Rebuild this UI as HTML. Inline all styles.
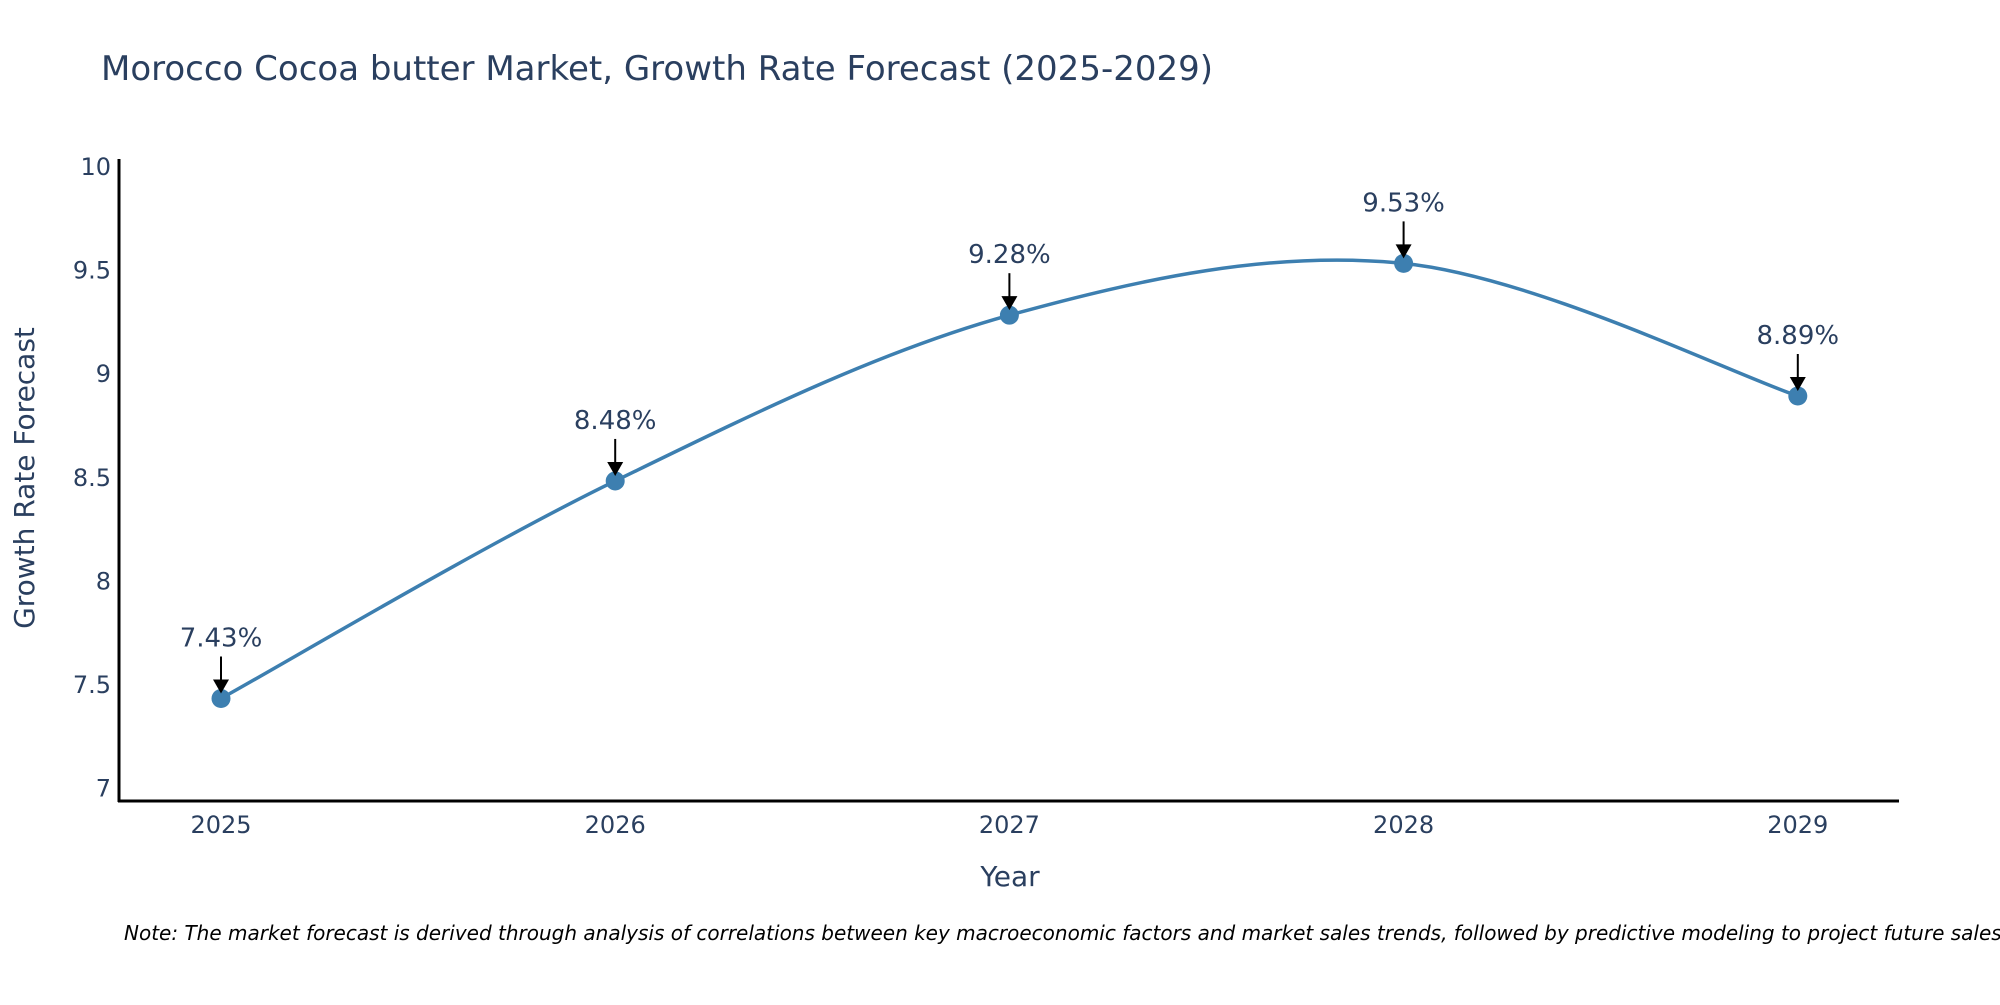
<!DOCTYPE html>
<html><head><meta charset="utf-8"><style>
html,body{margin:0;padding:0;background:#fff}
svg text{font-family:"DejaVu Sans","Liberation Sans",sans-serif;fill:#2a3f5f}
</style></head><body>
<svg id="chart" width="2000" height="1000" viewBox="0 0 2000 1000" xmlns="http://www.w3.org/2000/svg">
<rect width="2000" height="1000" fill="#fff"/>
<text x="101" y="80" font-size="34">Morocco Cocoa butter Market, Growth Rate Forecast (2025-2029)</text>
<g id="yticks"></g>
<g id="xticks"></g>
<line x1="119" y1="159" x2="119" y2="802" stroke="#000" stroke-width="3"/>
<line x1="118" y1="801" x2="1899" y2="801" stroke="#000" stroke-width="3"/>
<text transform="translate(34,478) rotate(-90)" text-anchor="middle" font-size="28">Growth Rate Forecast</text>
<text x="1010" y="886" text-anchor="middle" font-size="28">Year</text>
<text x="124" y="940" font-size="20" font-style="italic" style="fill:#000">Note: The market forecast is derived through analysis of correlations between key macroeconomic factors and market sales trends, followed by predictive modeling to project future sales</text>
<g id="series"></g>
</svg>
<script>
const years = [2025, 2026, 2027, 2028, 2029];
const growthValues = [7.43, 8.48, 9.28, 9.53, 8.89];
const valueLabels = ["7.43%", "8.48%", "9.28%", "9.53%", "8.89%"];
const yTickValues = [7, 7.5, 8, 8.5, 9, 9.5, 10];
const yTickLabels = ["7", "7.5", "8", "8.5", "9", "9.5", "10"];

const NS = "http://www.w3.org/2000/svg";
function xScale(v){ return 221 + (v - 2025) * 394.2; }
function yScale(v){ return 787.6 - (v - 7) * 207.2; }
function mk(tag, attrs, parent){ const e=document.createElementNS(NS,tag); for(const k in attrs) e.setAttribute(k,attrs[k]); parent.appendChild(e); return e; }

const yt = document.getElementById('yticks');
yTickValues.forEach((v,i)=>{
  const t = mk('text',{x:111,y:yScale(v)+9,'text-anchor':'end','font-size':'24'},yt);
  t.textContent = yTickLabels[i];
  
  
});
const xt = document.getElementById('xticks');
years.forEach(y=>{
  const t = mk('text',{x:xScale(y),y:833,'text-anchor':'middle','font-size':'24'},xt);
  t.textContent = String(y);
  
  
});

const g = document.getElementById('series');
const pts = years.map((y,i)=>[xScale(y), yScale(growthValues[i])]);
let d = "M"+pts[0][0]+","+pts[0][1];
const s = 1/6;
for(let i=0;i<pts.length-1;i++){
  const p0 = pts[Math.max(i-1,0)], p1 = pts[i], p2 = pts[i+1], p3 = pts[Math.min(i+2,pts.length-1)];
  const c1 = [p1[0]+(p2[0]-p0[0])*s, p1[1]+(p2[1]-p0[1])*s];
  const c2 = [p2[0]-(p3[0]-p1[0])*s, p2[1]-(p3[1]-p1[1])*s];
  d += " C"+c1[0]+","+c1[1]+" "+c2[0]+","+c2[1]+" "+p2[0]+","+p2[1];
}
const line = mk('path',{d:d,fill:'none',stroke:'#3d7fb0','stroke-width':'3.5'},g);



pts.forEach((p,i)=>{
  const c = mk('circle',{cx:p[0],cy:p[1],r:9.5,fill:'#3d7fb0'},g);
  
  
  const a = mk('line',{x1:p[0],y1:p[1]-42,x2:p[0],y2:p[1]-16,stroke:'#000','stroke-width':'2'},g);
  
  
  const h = mk('path',{d:`M${p[0]-8},${p[1]-19} L${p[0]+8},${p[1]-19} L${p[0]},${p[1]-5} Z`,fill:'#000'},g);
  
  
  const t = mk('text',{x:p[0],y:p[1]-52,'text-anchor':'middle','font-size':'26'},g);
  t.textContent = valueLabels[i];
  
  
});
</script>
</body></html>
